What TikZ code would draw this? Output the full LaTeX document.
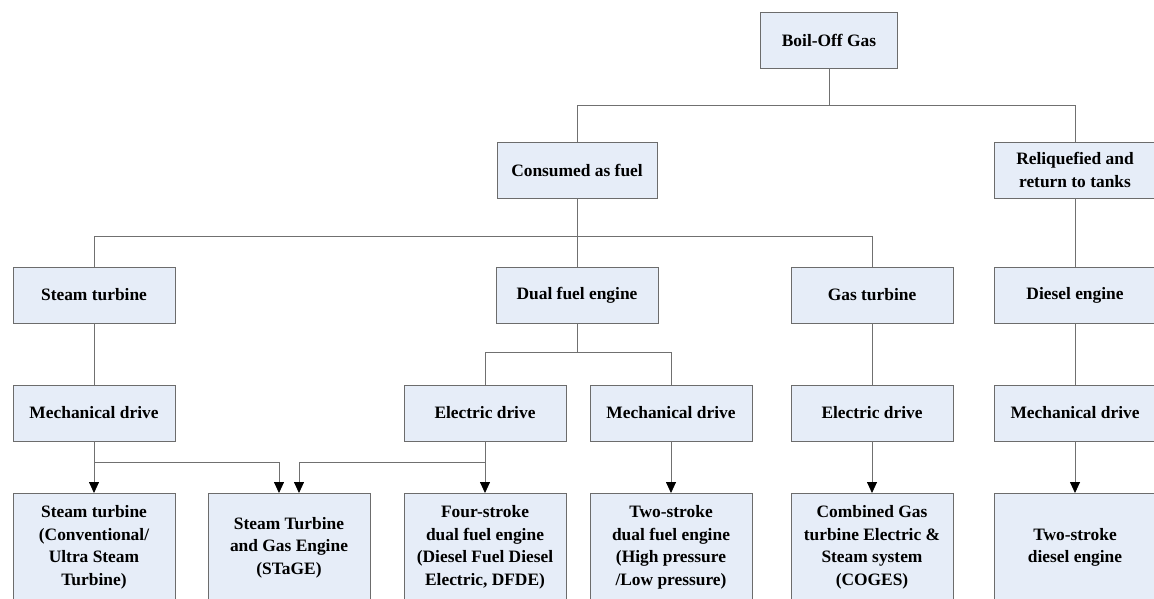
\documentclass[tikz,border=0pt]{standalone}
\usepackage{fontspec}
\setmainfont{Liberation Serif}
\usetikzlibrary{arrows.meta}
\definecolor{boxfill}{HTML}{E6EDF8}
\definecolor{boxline}{HTML}{6C6C6C}
\definecolor{linkgrey}{HTML}{707070}
\tikzset{
  box/.style={draw=boxline,fill=boxfill,line width=0.9pt,minimum width=162pt,minimum height=56pt,
    align=center,inner sep=2pt,font=\fontsize{17.4}{22.6}\selectfont\bfseries},
  leaf/.style={box,minimum height=108pt,anchor=north},
  link/.style={draw=linkgrey,line width=0.8pt},
  arr/.style={link,-{Triangle[width=10pt,length=11pt,color=black]}}
}
\begin{document}
\begin{tikzpicture}[x=1pt,y=-1pt]
    \useasboundingbox (0,0) rectangle (1154,598);
    \clip (0,0) rectangle (1154,598);
    \node[box,minimum width=137pt] (bog) at (829,40) {Boil-Off Gas};
    \node[box,minimum width=160pt] (cons) at (577,170) {Consumed as fuel};
    \node[box] (reliq) at (1075,170) {Reliquefied and\\return to tanks};
    % engines
    \node[box] (steam) at (94,295) {Steam turbine};
    \node[box] (dual) at (577,295) {Dual fuel engine};
    \node[box] (gast) at (872,295) {Gas turbine};
    \node[box] (diesel) at (1075,295) {Diesel engine};
    % drives
    \node[box] (mechA) at (94,413) {Mechanical drive};
    \node[box] (elecB) at (485,413) {Electric drive};
    \node[box] (mechB) at (671,413) {Mechanical drive};
    \node[box] (elecC) at (872,413) {Electric drive};
    \node[box] (mechD) at (1075,413) {Mechanical drive};
    % propulsion systems
    \node[leaf] (sysA) at (94,493) {Steam turbine\\(Conventional/\\Ultra Steam\\Turbine)};
    \node[leaf] (stage) at (289,493) {Steam Turbine\\and Gas Engine\\(STaGE)};
    \node[leaf] (sysB) at (485,493) {Four-stroke\\dual fuel engine\\(Diesel Fuel Diesel\\Electric, DFDE)};
    \node[leaf] (sysC) at (671,493) {Two-stroke\\dual fuel engine\\(High pressure\\/Low pressure)};
    \node[leaf] (sysD) at (872,493) {Combined Gas\\turbine Electric \&\\Steam system\\(COGES)};
    \node[leaf] (sysE) at (1075,493) {Two-stroke\\diesel engine};

    \draw[link] (bog.south) -- ++(0,37) -| (cons.north);
    \draw[link] (bog.south) -- ++(0,37) -| (reliq.north);
    \draw[link] (cons.south) -- ++(0,38) -| (steam.north);
    \draw[link] (cons.south) -- ++(0,38) -| (gast.north);
    \draw[link] (cons.south) -- (dual.north);
    \draw[link] (reliq.south) -- (diesel.north);
    \draw[link] (steam.south) -- (mechA.north);
    \draw[link] (dual.south) -- ++(0,29) -| (elecB.north);
    \draw[link] (dual.south) -- ++(0,29) -| (mechB.north);
    \draw[link] (gast.south) -- (elecC.north);
    \draw[link] (diesel.south) -- (mechD.north);

    \draw[arr] (mechA.south) -- (sysA.north);
    \draw[arr] (mechA.south) -- ++(0,21) -| ([xshift=-10pt]stage.north);
    \draw[arr] (elecB.south) -- (sysB.north);
    \draw[arr] (elecB.south) -- ++(0,21) -| ([xshift=10pt]stage.north);
    \draw[arr] (mechB.south) -- (sysC.north);
    \draw[arr] (elecC.south) -- (sysD.north);
    \draw[arr] (mechD.south) -- (sysE.north);
\end{tikzpicture}
\end{document}
